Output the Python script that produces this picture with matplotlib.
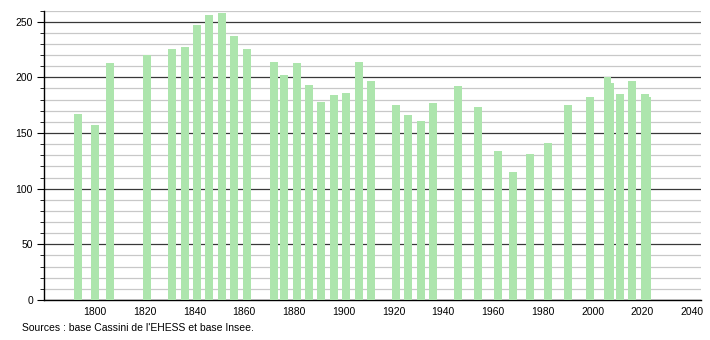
import matplotlib
matplotlib.use("Agg")
import matplotlib.pyplot as plt
from matplotlib.ticker import MultipleLocator

years = [1793, 1800, 1806, 1821, 1831, 1836, 1841, 1846, 1851, 1856, 1861,
         1872, 1876, 1881, 1886, 1891, 1896, 1901, 1906, 1911,
         1921, 1926, 1931, 1936, 1946, 1954, 1962, 1968, 1975, 1982,
         1990, 1999, 2006, 2007, 2011, 2016, 2021, 2022]
population = [167, 157, 213, 220, 225, 227, 247, 256, 258, 237, 225,
              214, 202, 213, 193, 178, 184, 186, 214, 197,
              175, 166, 161, 177, 192, 173, 134, 115, 131, 141,
              175, 182, 200, 195, 185, 197, 185, 182]
xticks = [1800, 1820, 1840, 1860, 1880, 1900, 1920, 1940, 1960, 1980, 2000, 2020, 2040]
yticks = [0, 50, 100, 150, 200, 250]
source = "Sources : base Cassini de l'EHESS et base Insee."

plt.rcParams['font.family'] = ['Liberation Sans', 'DejaVu Sans']

fig = plt.figure(figsize=(7.1, 3.4), dpi=100)
ax = fig.add_axes([0.062, 0.1176, 0.925, 0.8515])

ax.bar(years, population, width=3.2, color='#ade5ad', zorder=3)

ax.set_xlim(1779.5, 2043.5)
ax.set_ylim(0, 260)
ax.set_xticks(xticks)
ax.set_yticks(yticks)
ax.yaxis.set_minor_locator(MultipleLocator(10))

ax.grid(axis='y', which='major', color='#383838', linewidth=0.9, zorder=1)
ax.grid(axis='y', which='minor', color='#c8c8c8', linewidth=0.9, zorder=1)
ax.set_axisbelow(True)

for s in ['top', 'right']:
    ax.spines[s].set_visible(False)
ax.spines['left'].set_color('black')
ax.spines['bottom'].set_color('black')
ax.spines['left'].set_linewidth(1.0)
ax.spines['bottom'].set_linewidth(1.0)

ax.tick_params(axis='x', length=0, labelsize=7.5, pad=5)
ax.tick_params(axis='y', which='major', length=5, labelsize=7.5, pad=3)
ax.tick_params(axis='y', which='minor', length=3)

fig.text(22 / 710, 1 - 328 / 340, source, fontsize=7.5, ha='left', va='center')

fig.savefig('out.png', dpi=100)
